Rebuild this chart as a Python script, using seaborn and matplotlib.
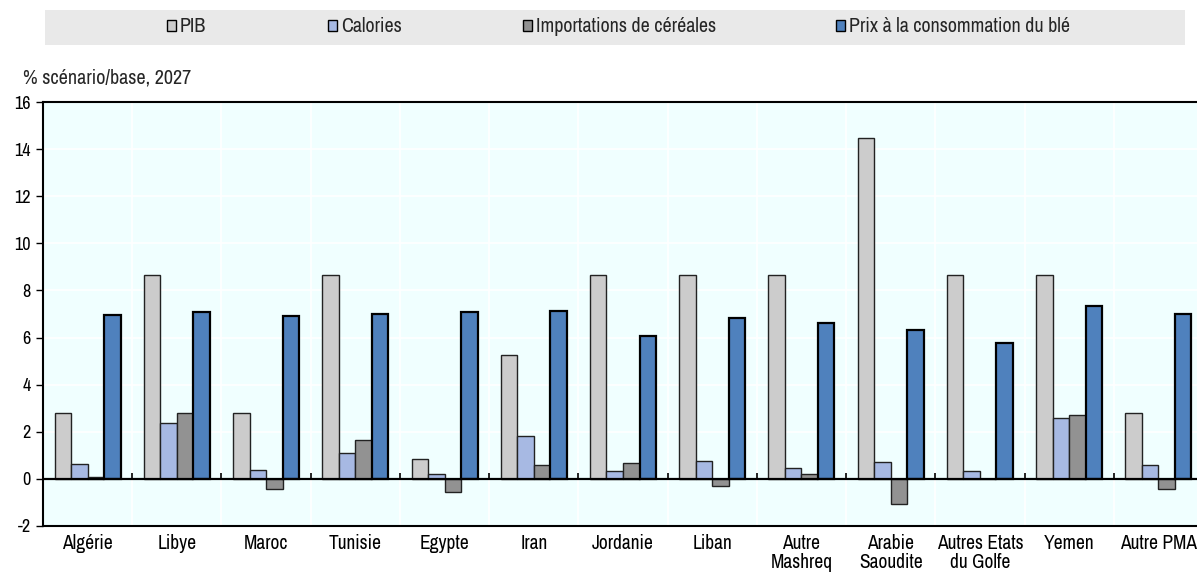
import matplotlib
matplotlib.use("Agg")
import matplotlib.pyplot as plt
from matplotlib import font_manager as fm
import seaborn as sns
import pandas as pd
import numpy as np
from matplotlib.patches import Rectangle, Patch

pays = ["Algérie", "Libye", "Maroc", "Tunisie", "Egypte", "Iran", "Jordanie", "Liban",
        "Autre\nMashreq", "Arabie\nSaoudite", "Autres Etats\ndu Golfe", "Yemen", "Autre PMA"]
series = ["PIB", "Calories", "Importations de céréales", "Prix à la consommation du blé"]

pib = [2.81, 8.67, 2.81, 8.67, 0.85, 5.26, 8.67, 8.67, 8.67, 14.48, 8.67, 8.67, 2.81]
calories = [0.65, 2.38, 0.37, 1.11, 0.21, 1.82, 0.34, 0.75, 0.48, 0.70, 0.33, 2.57, 0.60]
importations = [0.08, 2.81, -0.41, 1.65, -0.57, 0.61, 0.68, -0.30, 0.20, -1.06, 0.0, 2.70, -0.45]
prix = [6.97, 7.09, 6.90, 7.00, 7.09, 7.11, 6.07, 6.84, 6.61, 6.30, 5.79, 7.35, 7.02]

couleurs = ["#CCCCCC", "#A7B9E3", "#929292", "#4F81BD"]

df = pd.DataFrame({
    "pays": pays * 4,
    "serie": [s for s in series for _ in pays],
    "val": pib + calories + importations + prix,
})

sns.set_theme(style="white")

installed = {f.name for f in fm.fontManager.ttflist}
candidates = ["Liberation Sans Narrow", "Arial Narrow", "Archivo Narrow", "PT Sans Narrow",
              "Roboto Condensed", "Fira Sans Condensed", "Pragati Narrow"]
narrow = [c for c in candidates if c in installed]
if narrow:
    fam = [narrow[0], "Liberation Sans", "DejaVu Sans"]
    fs_tick, fs_leg, fs_x, fs_lab = 13, 14.4, 14, 14.5
else:
    fam = ["Liberation Sans", "DejaVu Sans"]
    fs_tick, fs_leg, fs_x, fs_lab = 10.5, 11.5, 11, 11.5
plt.rcParams["font.family"] = fam

fig = plt.figure(figsize=(11.97, 5.74), dpi=100)
ax = fig.add_axes([43 / 1197, 1 - 526 / 574, 1160 / 1197, (526 - 102) / 574])
ax.set_facecolor("#F0FFFF")

sns.barplot(data=df, x="pays", y="val", hue="serie", hue_order=series, order=pays,
            palette=couleurs, width=0.74, edgecolor="#222222", linewidth=1.0,
            saturation=1, ax=ax, legend=False, zorder=3)
for p in ax.containers[3]:
    p.set_linewidth(1.6)
    p.set_edgecolor("black")

ax.set_xlim(-0.5, len(pays) - 0.5)
ax.set_ylim(-2, 16)
ax.set_yticks(np.arange(-2, 17, 2))
ax.set_yticklabels([str(v) for v in range(-2, 17, 2)])
bounds = np.arange(0.5, len(pays) - 0.5, 1)
ax.set_xticks(bounds, minor=True)
ax.grid(False)
ax.grid(True, which="major", axis="y", color="white", linewidth=1.2, zorder=0)
ax.grid(True, which="minor", axis="x", color="white", linewidth=1.2, zorder=0)
ax.set_axisbelow(True)
ax.tick_params(axis="x", which="both", length=0, pad=6, labelsize=fs_x, colors="black")
ax.tick_params(axis="y", which="major", direction="out", length=5, width=1,
               pad=4, labelsize=fs_tick, colors="black", left=True)
for lab in ax.get_xticklabels():
    lab.set_linespacing(1.0)
ax.set_xlabel("")
ax.set_ylabel("")

ax.axhline(0, color="black", linewidth=1.6, zorder=4)
ax.vlines(bounds, 0, 0.25, color="black", linewidth=1.2, zorder=4)

for s in ax.spines.values():
    s.set_color("black")
    s.set_linewidth(1.5)

fig.text(23 / 1197, 1 - 78 / 574, "% scénario/base, 2027", fontsize=fs_lab,
         ha="left", va="center")

# Legend band
fig.patches.append(Rectangle((45 / 1197, 1 - 45 / 574), (1185 - 45) / 1197, 35 / 574,
                             transform=fig.transFigure, facecolor="#E9E9E9",
                             edgecolor="none", zorder=0))
leg_x = [167, 328, 523, 836]
for s, c, x in zip(series, couleurs, leg_x):
    fig.legend(handles=[Patch(facecolor=c, edgecolor="black", linewidth=1.0)], labels=[s],
               loc="center left", bbox_to_anchor=(x / 1197, 1 - 27 / 574),
               frameon=False, fontsize=fs_leg, handlelength=0.45, handleheight=0.45,
               handletextpad=0.2, borderpad=0, borderaxespad=0)

fig.savefig("out.png", dpi=100)
